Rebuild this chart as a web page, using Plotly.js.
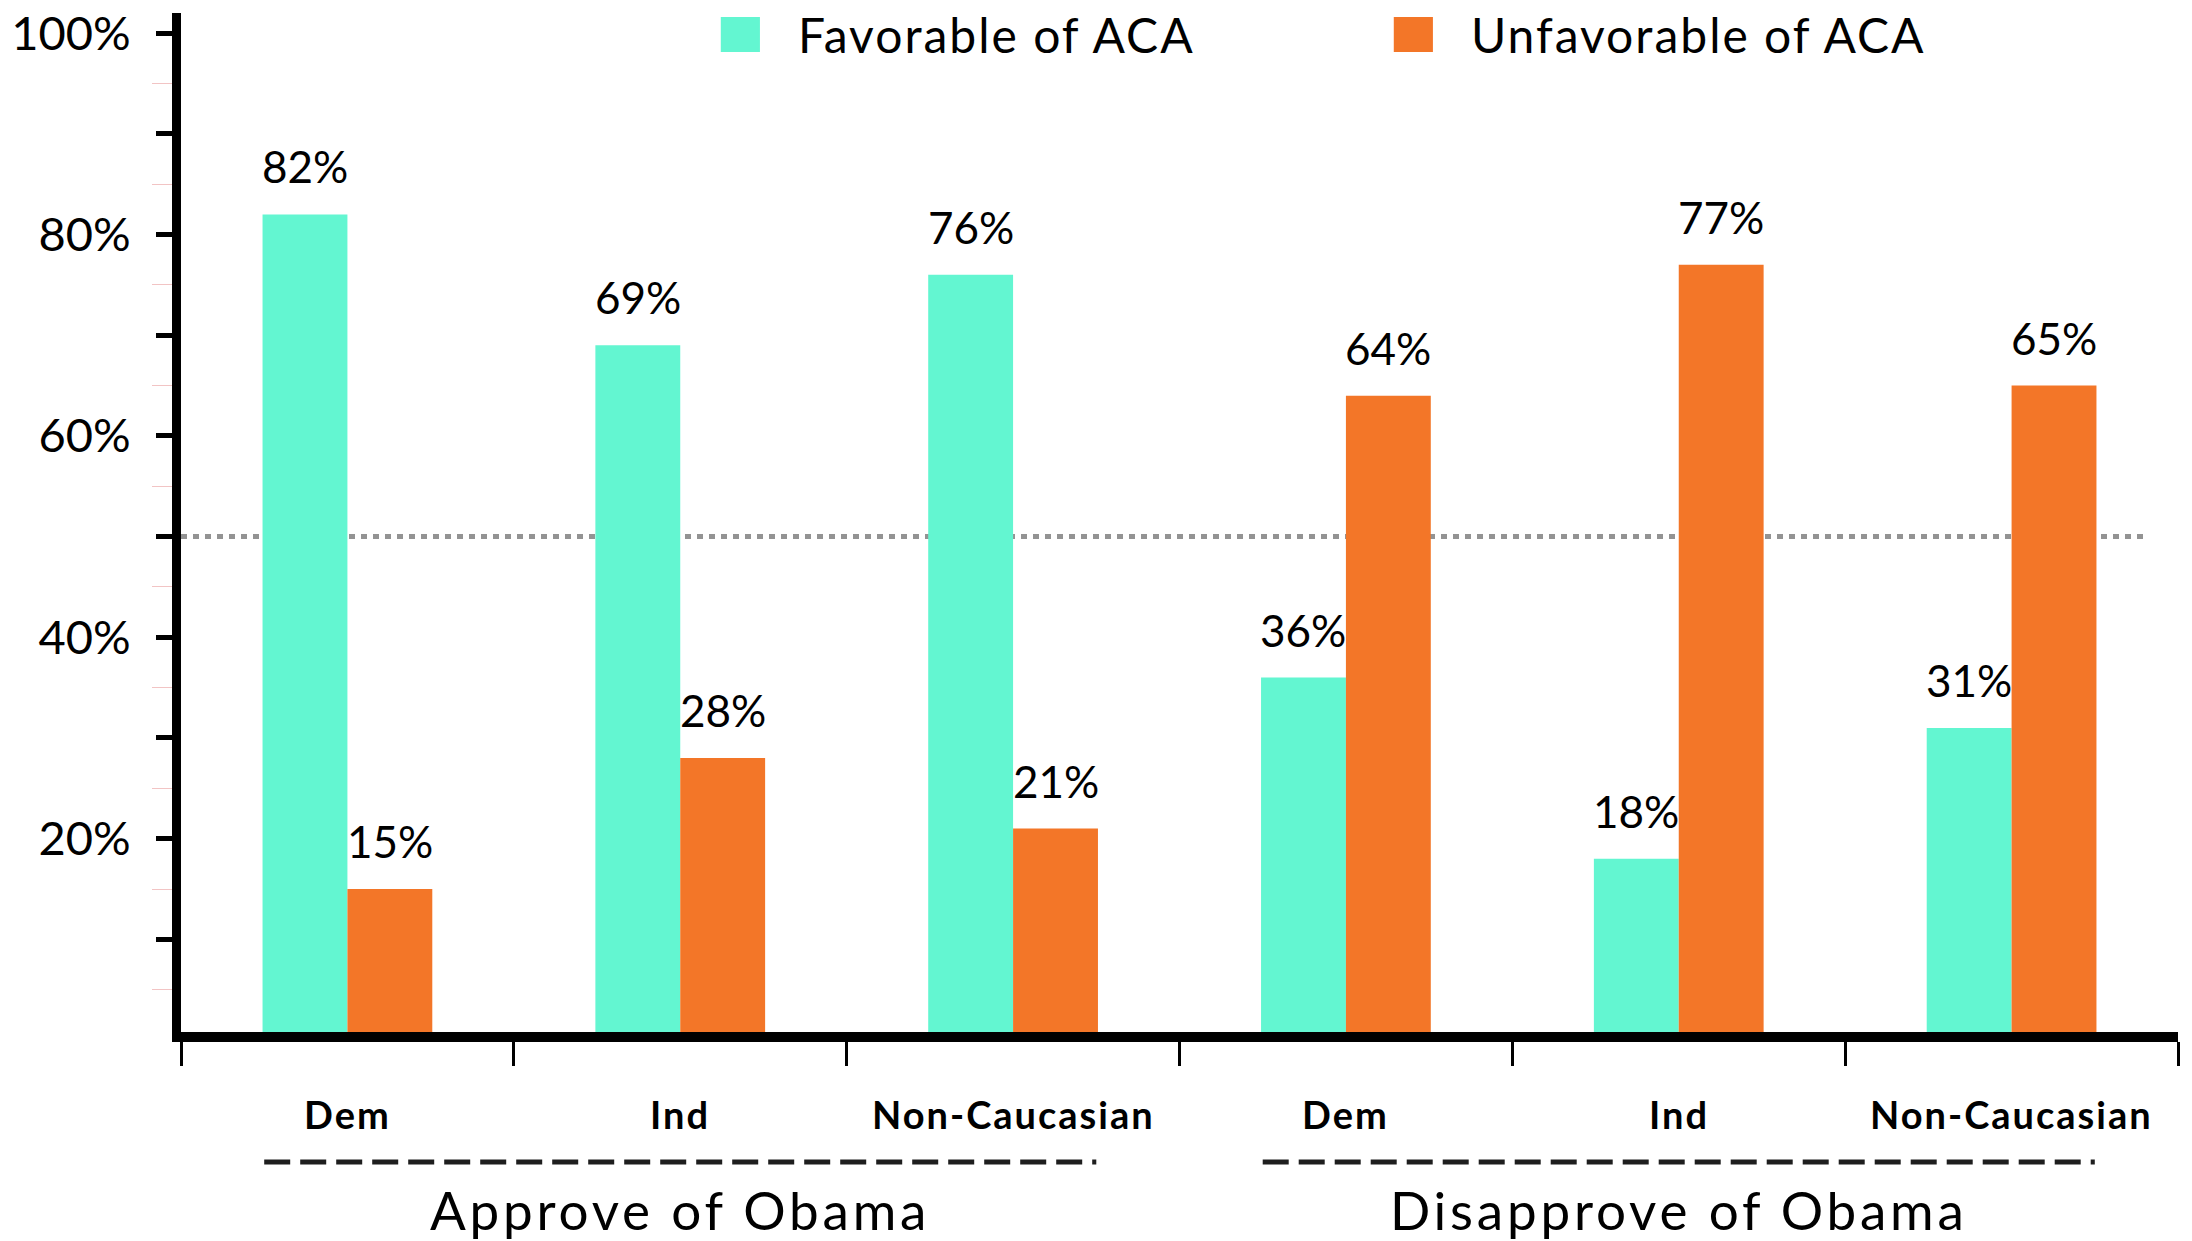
<!DOCTYPE html>
<html>
<head>
<meta charset="utf-8">
<script src="https://cdn.plot.ly/plotly-3.0.1.min.js"></script>
<style>
html,body{margin:0;padding:0;background:#fff;}
#chart{width:2192px;height:1241px;}
text[style*="font-size: 48px"]{letter-spacing:2px;}
text[style*="font-size: 38px"]{letter-spacing:2px;}
text[style*="font-size: 53px"]{letter-spacing:3.8px;}
</style>
</head>
<body>
<div id="chart"></div>
<script>
// ---- data ----
const categories = ['Dem', 'Ind', 'Non-Caucasian', 'Dem', 'Ind', 'Non-Caucasian'];
const groups = ['Approve of Obama', 'Disapprove of Obama'];
const groupOfCategory = [0, 0, 0, 1, 1, 1];
const favorable = [82, 69, 76, 36, 18, 31];
const unfavorable = [15, 28, 21, 64, 77, 65];
const seriesNames = ['Favorable of ACA', 'Unfavorable of ACA'];
const yTickValues = [10, 20, 30, 40, 50, 60, 70, 80, 90, 100];
const yTickLabels = ['', '20%', '', '40%', '', '60%', '', '80%', '', '100%'];
const yMinorTicks = [5, 15, 25, 35, 45, 55, 65, 75, 85, 95];
const referenceValue = 50;

// ---- style ----
const FONT = "Lato, 'Liberation Sans', Arial, sans-serif";
const colors = ['#63F6D1', '#F37628'];
const BARGAP = 0.49;

const x = categories.map((_, i) => i);
const boundaries = [];
for (let i = 0; i <= categories.length; i++) boundaries.push(i - 0.5);

const series = [favorable, unfavorable];
const traces = series.map((vals, s) => ({
  type: 'bar',
  name: seriesNames[s],
  x: x,
  y: vals,
  marker: {color: colors[s], line: {width: 0}},
  hoverinfo: 'skip',
  showlegend: false
}));

const annotations = [];
const barW = (1 - BARGAP) / 2;
series.forEach((vals, s) => {
  vals.forEach((v, i) => {
    annotations.push({
      x: i + (s === 0 ? -barW / 2 : barW / 2), y: v, xref: 'x', yref: 'y',
      text: v + '%', showarrow: false, yanchor: 'bottom', yshift: 20,
      font: {family: FONT, size: 44, color: '#000'}
    });
  });
});
categories.forEach((c, i) => {
  annotations.push({
    x: i, y: -0.0805, xref: 'x', yref: 'paper', text: '<b>' + c + '</b>',
    showarrow: false, yanchor: 'middle',
    font: {family: FONT, size: 38, color: '#000'}
  });
});
const shapes = [];
groups.forEach((g, gi) => {
  const members = x.filter(i => groupOfCategory[i] === gi);
  const center = (members[0] + members[members.length - 1]) / 2;
  annotations.push({
    x: center, y: -0.1745, xref: 'x', yref: 'paper', text: g,
    showarrow: false, yanchor: 'middle', borderpad: 0,
    font: {family: FONT, size: 53, color: '#000'}
  });
  shapes.push({
    type: 'line', xref: 'x', yref: 'paper', x0: center - 1.25, x1: center + 1.25,
    y0: -0.1276, y1: -0.1276, line: {color: '#1e1e1e', width: 5, dash: '26px,10px'}
  });
});
// reference line
shapes.push({
  type: 'line', xref: 'x', yref: 'y', x0: -0.5, x1: 5.4, y0: referenceValue, y1: referenceValue,
  layer: 'below', line: {color: '#939393', width: 5, dash: '6px,6px'}
});
// manual legend
const legendPos = [{x0: 0.2703, x1: 0.2899, tx: 0.3079}, {x0: 0.6073, x1: 0.6269, tx: 0.6449}];
seriesNames.forEach((n, s) => {
  shapes.push({
    type: 'rect', xref: 'paper', yref: 'paper', x0: legendPos[s].x0, x1: legendPos[s].x1,
    y0: 0.9617, y1: 0.9961, fillcolor: colors[s], line: {width: 0}
  });
  annotations.push({
    x: legendPos[s].tx, y: 0.979, xref: 'paper', yref: 'paper', text: n,
    showarrow: false, xanchor: 'left', yanchor: 'middle',
    font: {family: FONT, size: 48, color: '#000'}
  });
});

const layout = {
  width: 2192, height: 1241,
  margin: {l: 181, r: 14, t: 13, b: 209},
  paper_bgcolor: '#fff', plot_bgcolor: '#fff',
  barmode: 'group', bargap: BARGAP, bargroupgap: 0,
  font: {family: FONT, color: '#000'},
  xaxis: {
    range: [-0.5, 5.5], tickvals: boundaries, showticklabels: false,
    ticks: 'outside', ticklen: 24, tickwidth: 3, tickcolor: '#000',
    showline: true, linewidth: 10, linecolor: '#000',
    showgrid: false, zeroline: false, fixedrange: true
  },
  yaxis: {
    range: [0.8, 102], tickvals: yTickValues, ticktext: yTickLabels,
    ticks: 'outside', ticklen: 16, tickwidth: 5, tickcolor: '#000',
    tickfont: {family: FONT, size: 47, color: '#000'}, ticklabelstandoff: 16,
    minor: {tickvals: yMinorTicks, ticks: 'outside', ticklen: 20, tickwidth: 1, tickcolor: '#f2c4c4', showgrid: false},
    showline: true, linewidth: 9, linecolor: '#000',
    showgrid: false, zeroline: false, fixedrange: true
  },
  annotations: annotations,
  shapes: shapes,
  showlegend: false
};

Plotly.newPlot('chart', traces, layout, {displayModeBar: false, staticPlot: true});
</script>
</body>
</html>
